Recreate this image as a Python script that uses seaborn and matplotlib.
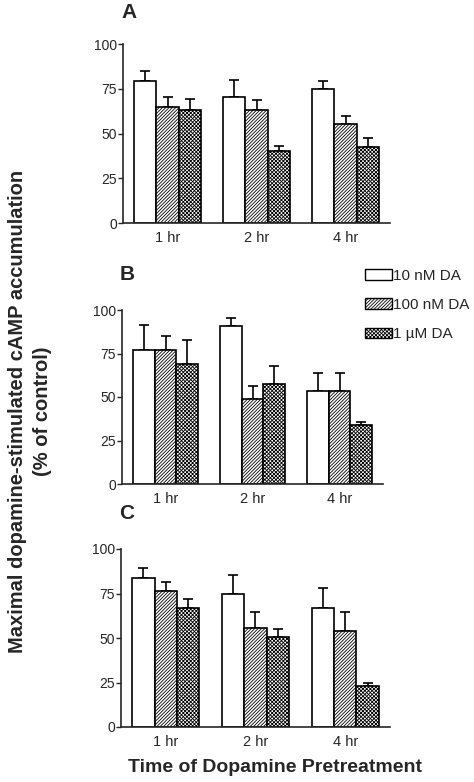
import numpy as np
import pandas as pd
import seaborn as sns
import matplotlib.pyplot as plt
from matplotlib.patches import Patch

sns.set_style("ticks")
plt.rcParams['font.family'] = ['Liberation Sans', 'DejaVu Sans']
plt.rcParams['hatch.linewidth'] = 0.6

# data (% of control), mean and upper error bar
times = ["1 hr", "2 hr", "4 hr"]
doses = ["10 nM DA", "100 nM DA", "1 \u00b5M DA"]

a_means = [[79.4, 70.4, 74.8],   # 10 nM
           [65.0, 63.2, 55.1],   # 100 nM
           [63.2, 40.1, 42.2]]   # 1 uM
a_tops = [[85.0, 79.7, 79.4],
          [70.3, 68.6, 60.0],
          [69.5, 43.1, 47.5]]

b_means = [[77.0, 91.0, 53.2],
           [77.0, 49.1, 53.2],
           [69.2, 57.6, 33.7]]
b_tops = [[91.4, 95.4, 63.7],
          [85.3, 56.4, 63.7],
          [82.6, 67.7, 35.4]]

c_means = [[83.5, 74.8, 67.0],
           [76.5, 55.8, 54.2],
           [67.1, 50.8, 23.2]]
c_tops = [[89.3, 85.2, 78.3],
          [81.4, 64.5, 64.4],
          [71.8, 54.9, 24.5]]

panels = [("A", a_means, a_tops), ("B", b_means, b_tops), ("C", c_means, c_tops)]
hatches = ["", "/" * 10, "x" * 9]

W, H = 474, 782
fig = plt.figure(figsize=(W / 100, H / 100), dpi=100)

# axes boxes in pixels: left, top, right, bottom
boxes = [(123, 44, 390, 223), (122, 310, 383, 484), (121, 549, 390, 727)]
letter_y = [22, 284, 523]


def make_df(means):
    rows = []
    for i, d in enumerate(doses):
        for j, t in enumerate(times):
            rows.append({"time": t, "dose": d, "value": means[i][j]})
    return pd.DataFrame(rows)


axes = []
for (name, means, tops), (l, t, r, b), ly in zip(panels, boxes, letter_y):
    ax = fig.add_axes([l / W, 1 - b / H, (r - l) / W, (b - t) / H])
    df = make_df(means)
    sns.barplot(data=df, x="time", y="value", hue="dose", order=times,
                hue_order=doses, palette=["white"] * 3, errorbar=None,
                width=0.75, edgecolor="black", linewidth=1.2, legend=False,
                ax=ax, zorder=2)
    bar_groups = list(ax.containers)
    for i, cont in enumerate(bar_groups):
        xs, ys, errs = [], [], []
        for j, bar in enumerate(cont):
            bar.set_hatch(hatches[i])
            xs.append(bar.get_x() + bar.get_width() / 2)
            ys.append(bar.get_height())
            errs.append(tops[i][j] - means[i][j])
        ax.errorbar(xs, ys, yerr=[np.zeros(len(errs)), errs], fmt="none",
                    ecolor="black", elinewidth=1.2, capsize=3.5,
                    capthick=1.2, zorder=1)
    ax.set_ylim(0, 100)
    ax.set_xlim(-0.5, 2.5)
    ax.set_yticks([0, 25, 50, 75, 100])
    ax.set_xlabel("")
    ax.set_ylabel("")
    ax.tick_params(axis="y", labelsize=10, length=3.5, width=1, pad=1)
    ax.tick_params(axis="x", labelsize=10.5, length=0, pad=6)
    sns.despine(ax=ax)
    for s in ["left", "bottom"]:
        ax.spines[s].set_linewidth(1.2)
    fig.text(l / W - 0.004, 1 - ly / H, name, fontsize=15, fontweight="bold",
             ha="left", va="bottom")
    axes.append(ax)

handles = [Patch(facecolor="white", edgecolor="black", hatch=h, linewidth=1.0)
           for h in hatches]
axes[1].legend(handles, doses, loc="center left",
               bbox_to_anchor=(365 / W, 1 - 305 / H),
               bbox_transform=fig.transFigure, frameon=False, fontsize=11,
               handlelength=1.75, handleheight=0.7, handletextpad=0.1,
               labelspacing=1.0, borderaxespad=0, borderpad=0)

fig.text(30 / W, 1 - 411 / H,
         "Maximal dopamine-stimulated cAMP accumulation\n(% of control)",
         rotation=90, ha="center", va="center", multialignment="center",
         fontsize=14.5, fontweight="bold", linespacing=1.35)
fig.text(275 / W, 1 - 768 / H, "Time of Dopamine Pretreatment",
         ha="center", va="center", fontsize=14, fontweight="bold")

fig.savefig("out.png", dpi=100)
